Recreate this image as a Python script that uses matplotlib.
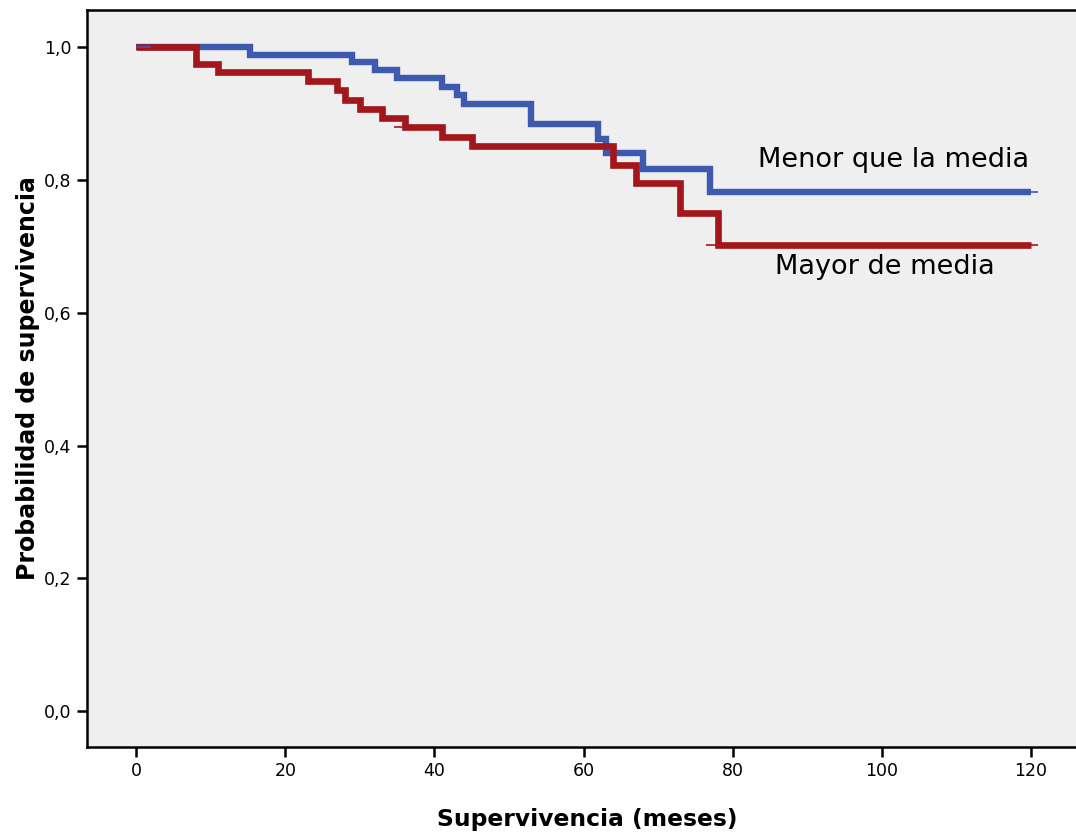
import matplotlib
matplotlib.use('Agg')
import matplotlib.pyplot as plt

# Kaplan-Meier, tiempos de evento y supervivencia
menor_t = [0, 15.3, 29, 32, 35, 41, 43, 44, 53, 62, 63, 68, 77, 120]
menor_s = [1.0, 0.988, 0.977, 0.965, 0.953, 0.940, 0.928, 0.915, 0.884, 0.861, 0.840, 0.817, 0.782, 0.782]
mayor_t = [0, 8, 11, 23, 27, 28, 30, 33, 36, 41, 45, 64, 67, 73, 78, 120]
mayor_s = [1.0, 0.975, 0.963, 0.949, 0.935, 0.921, 0.907, 0.893, 0.880, 0.865, 0.851, 0.823, 0.796, 0.750, 0.702, 0.702]

# censurados
menor_cens_t = [1, 120]
menor_cens_s = [1.0, 0.782]
mayor_cens_t = [35.5, 77.4, 120]
mayor_cens_s = [0.880, 0.702, 0.702]

xticks = [0, 20, 40, 60, 80, 100, 120]
yticks = [0.0, 0.2, 0.4, 0.6, 0.8, 1.0]
ylabels = ['0,0', '0,2', '0,4', '0,6', '0,8', '1,0']

blue = '#3e5aae'
red = '#a3161b'

plt.rcParams['font.family'] = ['DejaVu Sans']
fig = plt.figure(figsize=(10.76, 8.32), dpi=100)
ax = fig.add_axes([87 / 1076, 1 - 747 / 832, 1 - 87 / 1076 + 0.01, (747 - 10) / 832])
ax.set_facecolor('#efefef')

ax.plot(menor_t, menor_s, drawstyle='steps-post', color=blue, lw=4.6,
        solid_joinstyle='miter', solid_capstyle='butt')
ax.plot(mayor_t, mayor_s, drawstyle='steps-post', color=red, lw=4.8,
        solid_joinstyle='miter', solid_capstyle='butt')
ax.plot(menor_cens_t, menor_cens_s, ls='none', marker='_', ms=10, mew=1.2, color=blue)
ax.plot(mayor_cens_t, mayor_cens_s, ls='none', marker='_', ms=10, mew=1.2, color=red)

ax.text(101.6, 0.830, 'Menor que la media', fontsize=19.5, ha='center', va='center')
ax.text(100.4, 0.669, 'Mayor de media', fontsize=19.5, ha='center', va='center')

ax.set_xlim(-6.6, 127.5)
ax.set_ylim(-0.054, 1.056)
ax.set_xticks(xticks)
ax.set_xticklabels([str(t) for t in xticks])
ax.set_yticks(yticks)
ax.set_yticklabels(ylabels)
ax.tick_params(length=7, width=1.8, labelsize=12.5, color='black', pad=4)
for s in ax.spines.values():
    s.set_linewidth(1.8)
ax.spines['right'].set_visible(False)

ax.set_xlabel('Supervivencia (meses)', fontsize=16.8, fontweight='bold', labelpad=20)
ax.set_ylabel('Probabilidad de supervivencia', fontsize=17, fontweight='bold', labelpad=3)

fig.savefig('out.png', dpi=100)
